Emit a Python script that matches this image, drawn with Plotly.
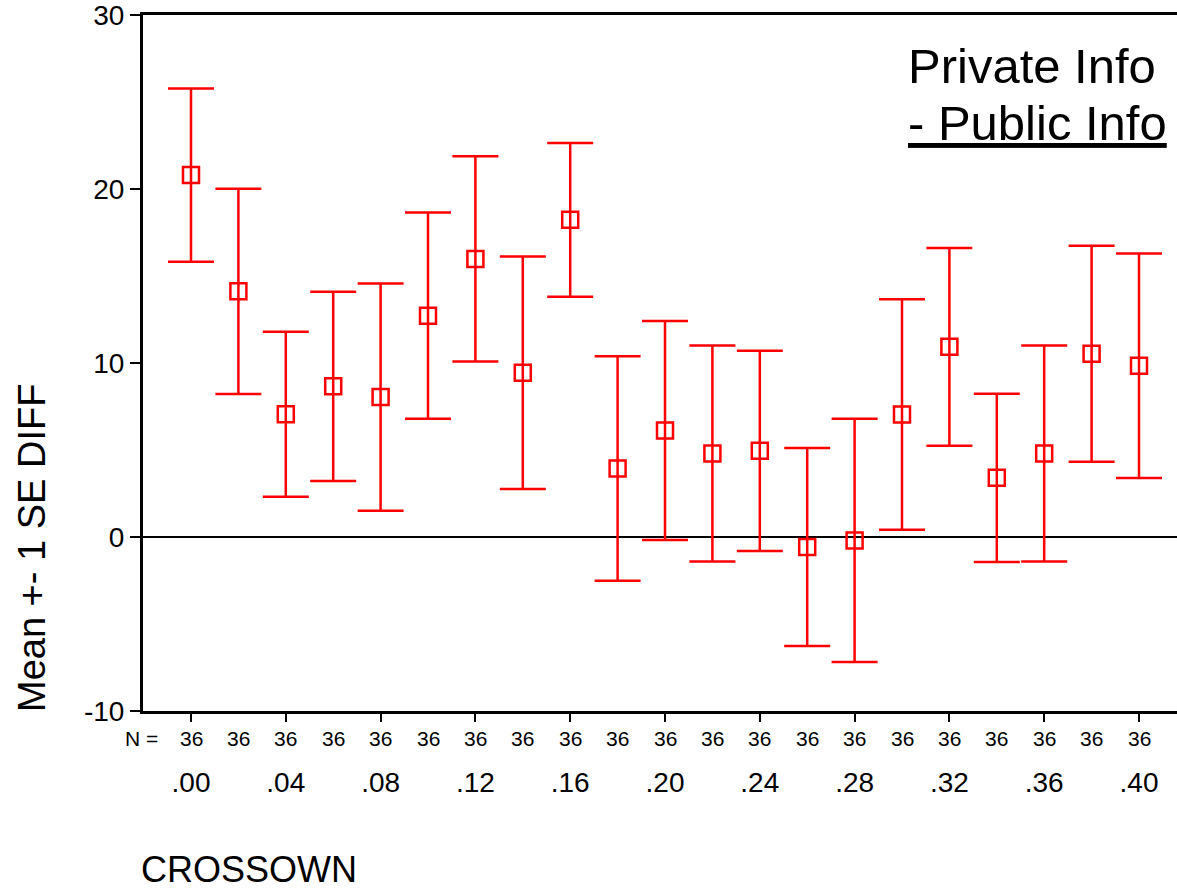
import plotly.graph_objects as go

# CROSSOWN levels, group means of DIFF and their standard errors
crossown = [0.00, 0.02, 0.04, 0.06, 0.08, 0.10, 0.12, 0.14, 0.16, 0.18, 0.20,
            0.22, 0.24, 0.26, 0.28, 0.30, 0.32, 0.34, 0.36, 0.38, 0.40]
mean_diff = [20.8, 14.12, 7.06, 8.66, 8.04, 12.72, 15.98, 9.44, 18.23, 3.94, 6.12,
             4.8, 4.95, -0.57, -0.2, 7.04, 10.93, 3.4, 4.8, 10.53, 9.84]
se_diff = [4.98, 5.9, 4.74, 5.44, 6.53, 5.93, 5.9, 6.68, 4.42, 6.45, 6.29,
           6.21, 5.76, 5.69, 6.99, 6.62, 5.68, 4.83, 6.21, 6.21, 6.45]
n_count = [36] * 21

tick_vals = [0.00, 0.04, 0.08, 0.12, 0.16, 0.20, 0.24, 0.28, 0.32, 0.36, 0.40]
tick_text = [".00", ".04", ".08", ".12", ".16", ".20", ".24", ".28", ".32", ".36", ".40"]
y_ticks = [-10, 0, 10, 20, 30]
y_tick_text = ["-10", "0", "10", "20", "30"]

W, H = 1177, 889
ML, MR, MT, MB = 143, 0, 15, 178
PW, PH = W - ML - MR, H - MT - MB
FONT = "Arial, Liberation Sans, sans-serif"


def px_x(p):
    return (p - ML) / PW


def px_y(p):
    return (H - MB - p) / PH


fig = go.Figure()
fig.add_trace(go.Scatter(
    x=crossown, y=mean_diff, mode="markers",
    marker=dict(symbol="square-open", size=16, color="#ff0000",
                line=dict(width=2.5, color="#ff0000")),
    error_y=dict(type="data", array=se_diff, symmetric=True,
                 color="#ff0000", thickness=2.5, width=23),
    showlegend=False, hoverinfo="x+y",
))

annotations = [
    dict(x=c, y=px_y(738), xref="x", yref="paper", text=str(n), showarrow=False,
         font=dict(family=FONT, size=21, color="black"), xanchor="center", yanchor="middle")
    for c, n in zip(crossown, n_count)
]
annotations += [
    dict(x=px_x(141), y=px_y(738), xref="paper", yref="paper", text="N =", showarrow=False,
         font=dict(family=FONT, size=21, color="black"), xanchor="center", yanchor="middle"),
    dict(x=px_x(139), y=px_y(869), xref="paper", yref="paper", text="CROSSOWN", showarrow=False,
         font=dict(family=FONT, size=36, color="black"), xanchor="left", yanchor="middle"),
    dict(x=px_x(32), y=px_y(548), xref="paper", yref="paper", text="Mean +- 1 SE DIFF",
         showarrow=False, textangle=-90,
         font=dict(family=FONT, size=38, color="black"), xanchor="center", yanchor="middle"),
    dict(x=px_x(906), y=px_y(66), xref="paper", yref="paper", text="Private Info",
         showarrow=False, font=dict(family=FONT, size=49, color="black"),
         xanchor="left", yanchor="middle"),
    dict(x=px_x(906), y=px_y(123), xref="paper", yref="paper", text="<u>- Public Info</u>",
         showarrow=False, font=dict(family=FONT, size=49, color="black"),
         xanchor="left", yanchor="middle"),
]

step = 0.02 / 47.4
fig.update_layout(
    width=W, height=H,
    margin=dict(l=ML, r=MR, t=MT, b=MB, pad=0),
    paper_bgcolor="white", plot_bgcolor="white",
    font=dict(family=FONT, color="black"),
    xaxis=dict(
        range=[-(191 - ML) * step, (W - MR - 191) * step],
        tickmode="array", tickvals=tick_vals, ticktext=tick_text,
        ticks="outside", ticklen=8, tickwidth=2, tickcolor="black",
        tickfont=dict(family=FONT, size=28, color="black"),
        ticklabelstandoff=36,
        showline=True, linewidth=3, linecolor="black", mirror=True,
        showgrid=False, zeroline=False,
    ),
    yaxis=dict(
        range=[-10, 30], tickmode="array", tickvals=y_ticks, ticktext=y_tick_text,
        ticks="outside", ticklen=10, tickwidth=2, tickcolor="black",
        tickfont=dict(family=FONT, size=28, color="black"),
        ticklabelstandoff=0, ticklabeloverflow="allow",
        showline=True, linewidth=3, linecolor="black", mirror=False,
        showgrid=False, zeroline=True, zerolinecolor="black", zerolinewidth=1.5,
    ),
    annotations=annotations,
)

fig.write_html("out.html")
